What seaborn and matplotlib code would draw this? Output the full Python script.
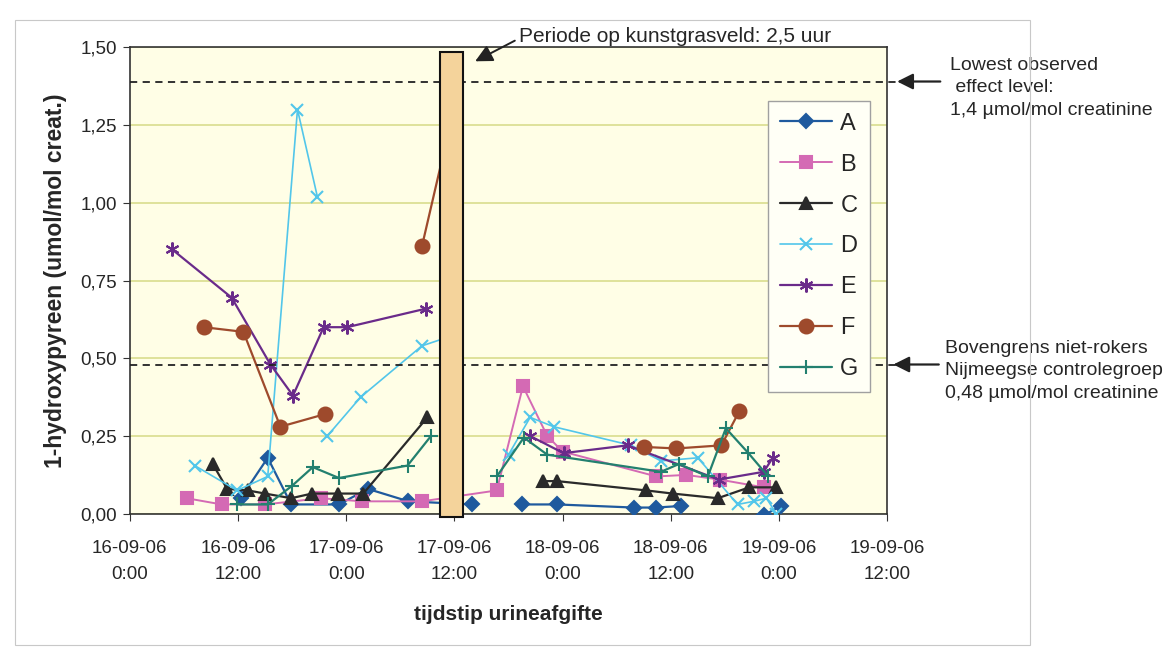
import numpy as np
import pandas as pd
import matplotlib
matplotlib.use("Agg")
import matplotlib.pyplot as plt
from matplotlib.patches import Rectangle
import seaborn as sns

# x = hours since 16-09-06 0:00, NaN = gap in the line
series_names = ["A", "B", "C", "D", "E", "F", "G"]

hours_a = [12.3, 15.3, 17.9, 23.2, 26.4, 30.9, 38.0, np.nan, 43.5, 47.4, 55.9, 58.3, 61.1, np.nan, 70.3, 72.2]
values_a = [0.05, 0.18, 0.03, 0.03, 0.08, 0.04, 0.03, np.nan, 0.03, 0.03, 0.02, 0.02, 0.025, np.nan, -0.005, 0.025]

hours_b = [6.3, 10.2, 15.0, 21.2, 25.8, 32.4, 40.7, 43.6, 46.3, 48.0, 58.4, 61.7, 65.4, 70.3]
values_b = [0.05, 0.03, 0.03, 0.05, 0.04, 0.04, 0.075, 0.41, 0.25, 0.20, 0.12, 0.125, 0.11, 0.085]

hours_c = [9.2, 10.8, 13.1, 15.0, 17.9, 20.2, 23.1, 25.9, 33.0, np.nan,
           45.8, 47.4, 57.3, 60.2, 65.2, 68.7, 71.7]
values_c = [0.16, 0.08, 0.075, 0.065, 0.05, 0.065, 0.065, 0.065, 0.31, np.nan,
            0.105, 0.105, 0.075, 0.065, 0.05, 0.085, 0.085]

hours_d = [7.2, 11.9, 15.3, 18.6, 20.8, np.nan, 21.9, 25.6, 32.4, 35.5, np.nan,
           42.0, 44.4, 47.0, 55.6, 58.9, 63.0, 67.4, 69.2, 70.6, 71.7]
values_d = [0.155, 0.075, 0.12, 1.30, 1.02, np.nan, 0.25, 0.375, 0.54, 0.57, np.nan,
            0.19, 0.31, 0.28, 0.22, 0.17, 0.18, 0.03, 0.04, 0.05, 0.0]

hours_e = [4.7, 11.3, 15.6, 18.1, 21.5, 24.1, 32.9, np.nan, 44.4, 48.1, 55.2, 65.3, 70.3, 71.3]
values_e = [0.85, 0.695, 0.48, 0.38, 0.60, 0.60, 0.66, np.nan, 0.25, 0.195, 0.22, 0.11, 0.135, 0.18]

hours_f = [8.2, 12.6, 16.7, 21.6, np.nan, 32.4, 35.6, np.nan, 57.0, 60.6, 65.6, 67.6]
values_f = [0.60, 0.585, 0.28, 0.32, np.nan, 0.86, 1.26, np.nan, 0.215, 0.21, 0.22, 0.33]

hours_g = [11.9, 15.3, 18.0, 20.3, 23.2, 30.8, 33.4, np.nan,
           40.7, 43.7, 46.3, 58.9, 60.9, 64.1, 66.1, 68.6, 70.8]
values_g = [0.03, 0.03, 0.09, 0.15, 0.115, 0.155, 0.25, np.nan,
            0.12, 0.245, 0.19, 0.135, 0.16, 0.12, 0.275, 0.195, 0.12]

lowest_effect = 1.39
upper_limit = 0.48
exposure_start, exposure_end = 34.4, 36.9

x_ticks = [0, 12, 24, 36, 48, 60, 72, 84]
x_tick_labels = ["16-09-06\n0:00", "16-09-06\n12:00", "17-09-06\n0:00", "17-09-06\n12:00",
                 "18-09-06\n0:00", "18-09-06\n12:00", "19-09-06\n0:00", "19-09-06\n12:00"]
y_ticks = [0, 0.25, 0.5, 0.75, 1.0, 1.25, 1.5]
y_tick_labels = ["0,00", "0,25", "0,50", "0,75", "1,00", "1,25", "1,50"]

raw = {"A": (hours_a, values_a), "B": (hours_b, values_b), "C": (hours_c, values_c),
       "D": (hours_d, values_d), "E": (hours_e, values_e), "F": (hours_f, values_f),
       "G": (hours_g, values_g)}

rows = []
for name, (hrs, vals) in raw.items():
    seg = 0
    for h, v in zip(hrs, vals):
        if np.isnan(h):
            seg += 1
            continue
        rows.append({"series": name, "seg": f"{name}{seg}", "hours": h, "value": v})
df = pd.DataFrame(rows)

colors = {"A": "#1F5A9E", "B": "#D46AB4", "C": "#2A2A2A", "D": "#52C6EA",
          "E": "#6A2B8A", "F": "#9E4A2C", "G": "#23806F"}
markers = {"A": "D", "B": "s", "C": "^", "D": "x", "E": (6, 2, 0), "F": "o", "G": "+"}
msizes = {"A": 7, "B": 8, "C": 8, "D": 8, "E": 10, "F": 10, "G": 10}
lwidths = {"A": 1.6, "B": 1.4, "C": 1.6, "D": 1.2, "E": 1.6, "F": 1.6, "G": 1.6}

sns.set_style("white")
plt.rcParams["font.family"] = ["Liberation Sans", "DejaVu Sans"]

fig = plt.figure(figsize=(11.69, 6.57), dpi=100)
fig.patch.set_facecolor("white")
ax = fig.add_axes([0.111, 0.218, 0.648, 0.71])
ax.set_facecolor("#FFFEE6")

for name in series_names:
    sub = df[df["series"] == name]
    sns.lineplot(data=sub, x="hours", y="value", units="seg", estimator=None,
                 color=colors[name], marker=markers[name], markersize=msizes[name],
                 markeredgecolor=colors[name], markeredgewidth=1.5,
                 linewidth=lwidths[name], label=name, ax=ax, zorder=3)

# exposure period bar drawn over the lines
ax.add_patch(Rectangle((exposure_start, -0.01), exposure_end - exposure_start, 1.495,
                       facecolor="#F4D39B", edgecolor="#111111", lw=1.5,
                       zorder=6, clip_on=False))

for level in (lowest_effect, upper_limit):
    ax.plot([0, 1.012], [level, level], transform=ax.get_yaxis_transform(),
            color="#222222", lw=1.3, ls=(0, (4, 3)), clip_on=False, zorder=4)

ax.set_xlim(0, 84)
ax.set_ylim(0, 1.5)
ax.set_xticks(x_ticks, x_tick_labels, fontsize=13.5, linespacing=1.7)
ax.set_yticks(y_ticks, y_tick_labels, fontsize=13.5)
ax.tick_params(axis="x", length=5, pad=14, color="#333333", bottom=True)
ax.tick_params(axis="y", length=5, pad=4, color="#333333", left=True)
ax.yaxis.grid(True, color="#D6DA86", lw=1.1)
ax.xaxis.grid(False)
ax.set_axisbelow(True)
for sp in ax.spines.values():
    sp.set_color("#333333")
    sp.set_linewidth(1.2)

ax.set_xlabel("tijdstip urineafgifte", fontsize=15, fontweight="bold", labelpad=16)
ax.set_ylabel("1-hydroxypyreen (umol/mol creat.)", fontsize=16.5, fontweight="bold", labelpad=10)

handles, labels = ax.get_legend_handles_labels()
uniq = dict(zip(labels, handles))
leg = ax.legend([uniq[n] for n in series_names], series_names, loc="upper left",
                bbox_to_anchor=(0.843, 0.885), fontsize=17, frameon=True, fancybox=False,
                labelspacing=0.8, handlelength=2.2, handletextpad=0.35, borderpad=0.5,
                borderaxespad=0)
leg.get_frame().set_edgecolor("#A0A0A0")
leg.get_frame().set_facecolor("#FFFFF6")
leg.get_frame().set_alpha(1)
leg.set_zorder(5)

arrow = dict(arrowstyle="-|>", mutation_scale=24, color="#222222", lw=1.6, shrinkA=0, shrinkB=0)
ax.annotate("", xy=(1.013, lowest_effect), xytext=(1.07, lowest_effect),
            xycoords=("axes fraction", "data"), textcoords=("axes fraction", "data"),
            arrowprops=arrow, annotation_clip=False)
ax.annotate("", xy=(1.008, upper_limit), xytext=(1.068, upper_limit),
            xycoords=("axes fraction", "data"), textcoords=("axes fraction", "data"),
            arrowprops=arrow, annotation_clip=False)
ax.text(1.083, lowest_effect - 0.02, "Lowest observed\n effect level:\n1,4 µmol/mol creatinine",
        transform=ax.get_yaxis_transform(), fontsize=14, va="center", ha="left",
        linespacing=1.42, clip_on=False)
ax.text(1.076, upper_limit - 0.02, "Bovengrens niet-rokers\nNijmeegse controlegroep\n0,48 µmol/mol creatinine",
        transform=ax.get_yaxis_transform(), fontsize=14, va="center", ha="left",
        linespacing=1.42, clip_on=False)
ax.annotate("Periode op kunstgrasveld: 2,5 uur", xy=(38.3, 1.455), xytext=(43.2, 1.535),
            fontsize=15, va="center", ha="left",
            arrowprops=dict(arrowstyle="-|>", mutation_scale=26, color="#222222", lw=1.4,
                            shrinkA=1, shrinkB=0, relpos=(0, 0.4)),
            annotation_clip=False)

fig.add_artist(Rectangle((15 / 1169, 1 - 645 / 657), (1030 - 15) / 1169, (645 - 20) / 657,
                         transform=fig.transFigure, fill=False, edgecolor="#C8C8C8", lw=0.8))

fig.savefig("out.png", dpi=100)
